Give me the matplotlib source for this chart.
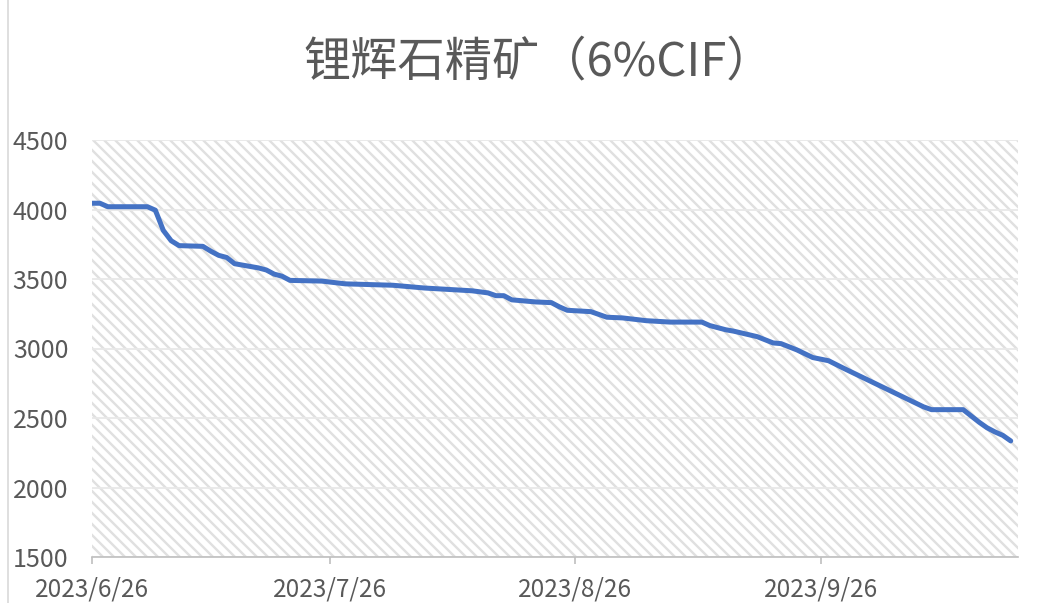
import matplotlib.pyplot as plt
from matplotlib.collections import LineCollection
from matplotlib.lines import Line2D
import pandas as pd

plt.rcParams['font.family'] = ['Noto Sans CJK SC', 'DejaVu Sans']

# data
dates = ['2023-06-26', '2023-06-27', '2023-06-28', '2023-07-03', '2023-07-04',
         '2023-07-05', '2023-07-06', '2023-07-07', '2023-07-10', '2023-07-11',
         '2023-07-12', '2023-07-13', '2023-07-14', '2023-07-17', '2023-07-18',
         '2023-07-19', '2023-07-20', '2023-07-21', '2023-07-25', '2023-07-28',
         '2023-07-31', '2023-08-03', '2023-08-07', '2023-08-10', '2023-08-13',
         '2023-08-15', '2023-08-16', '2023-08-17', '2023-08-18', '2023-08-21',
         '2023-08-23', '2023-08-24', '2023-08-25', '2023-08-28', '2023-08-29',
         '2023-08-30', '2023-09-01', '2023-09-04', '2023-09-07', '2023-09-11',
         '2023-09-12', '2023-09-14', '2023-09-15', '2023-09-18', '2023-09-20',
         '2023-09-21', '2023-09-23', '2023-09-25', '2023-09-27', '2023-09-29',
         '2023-10-09', '2023-10-10', '2023-10-14', '2023-10-15', '2023-10-16',
         '2023-10-17', '2023-10-18', '2023-10-19', '2023-10-20']
prices = [4045, 4045, 4020, 4020, 3995,
          3850, 3775, 3740, 3735, 3700,
          3670, 3655, 3610, 3580, 3565,
          3535, 3520, 3490, 3485, 3465,
          3460, 3455, 3435, 3425, 3415,
          3400, 3380, 3380, 3350, 3335,
          3330, 3300, 3275, 3265, 3245,
          3225, 3220, 3200, 3190, 3190,
          3165, 3135, 3125, 3085, 3040,
          3035, 2990, 2935, 2912, 2855,
          2580, 2560, 2560, 2515, 2470,
          2430, 2400, 2375, 2335]
tick_dates = ['2023-06-26', '2023-07-26', '2023-08-26', '2023-09-26']
tick_labels = ['2023/6/26', '2023/7/26', '2023/8/26', '2023/9/26']
title = '锂辉石精矿（6%CIF）'

x = pd.to_datetime(dates)

W, H = 1060, 603
fig = plt.figure(figsize=(W / 100, H / 100), dpi=100)
ax = fig.add_axes([92 / W, 46 / H, (1018 - 92) / W, (557 - 140) / H])
aw, ah = 1018 - 92, 557 - 140

# Excel-like diagonal pattern fill of the plot area
segs = []
step = 11
for c in range(-ah, aw + step, step):
    segs.append([(c / aw, 1), ((c + ah) / aw, 0)])
ax.add_collection(LineCollection(segs, colors='#e0e0e0', linewidths=1.7,
                                 transform=ax.transAxes, zorder=0))

ax.plot(x, prices, color='#4472C4', lw=3.6, solid_capstyle='round',
        solid_joinstyle='round', zorder=3)

ax.set_ylim(1500, 4500)
ax.set_yticks(range(1500, 5000, 500))
ax.yaxis.grid(True, color='#e8e8e8', lw=1.3, zorder=1)
ax.set_axisbelow(True)

ax.set_xlim(pd.Timestamp('2023-06-26'), pd.Timestamp('2023-10-20 22:00'))
ax.set_xticks(pd.to_datetime(tick_dates))
ax.set_xticklabels(tick_labels)

for s in ['top', 'right', 'left']:
    ax.spines[s].set_visible(False)
ax.spines['bottom'].set_color('#bfbfbf')
ax.spines['bottom'].set_linewidth(1.2)

ax.tick_params(axis='y', length=0, pad=17, labelsize=18, labelcolor='#595959')
ax.tick_params(axis='x', length=5, width=1.2, color='#bfbfbf', pad=9,
               labelsize=17.5, labelcolor='#595959')

fig.text(0.5 + 9 / W, 1 - 62 / H, title, ha='center', va='center',
         fontsize=34, color='#595959')

# chart frame edge on the left
fig.add_artist(Line2D([8 / W, 8 / W], [0, 1], color='#d9d9d9', lw=1.2))

fig.savefig('out.png', dpi=100)
